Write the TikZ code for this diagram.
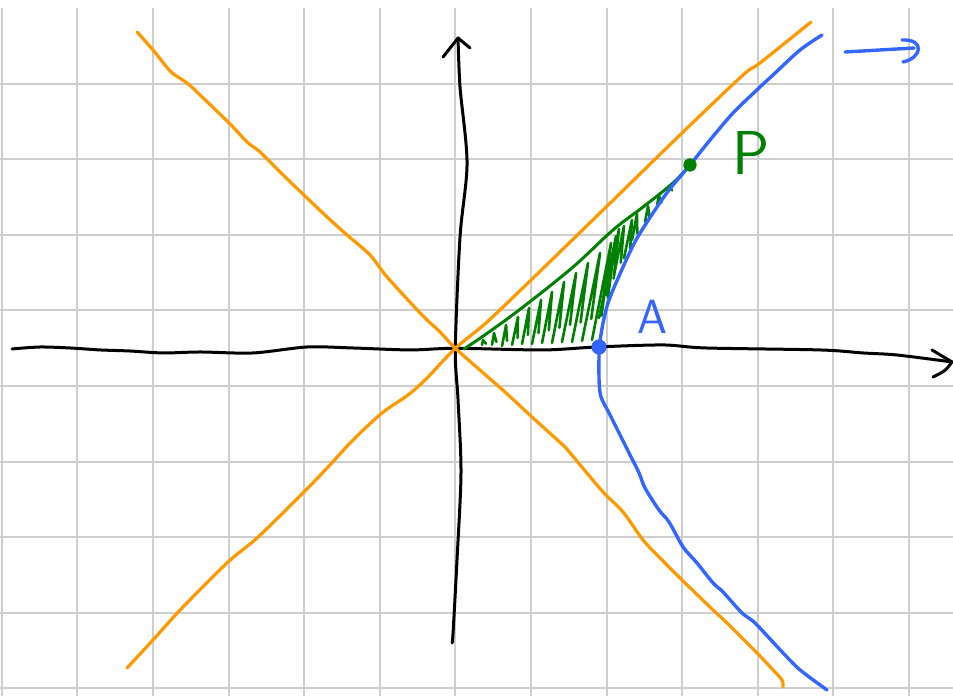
\documentclass[tikz,border=0pt]{standalone}
\definecolor{penorange}{RGB}{255,153,0}
\definecolor{penblue}{RGB}{51,102,255}
\definecolor{pengreen}{RGB}{0,128,0}
\definecolor{gridgray}{RGB}{206,206,206}
\tikzset{
  gridline/.style={gridgray, line width=2pt},
  axisline/.style={black, line width=3pt, line cap=round, line join=round},
  asymptote/.style={penorange, line width=3.2pt, line cap=round, line join=round},
  hyperbola/.style={penblue, line width=3.4pt, line cap=round, line join=round},
  hatch/.style={pengreen, line width=2.6pt, line cap=round, line join=round},
  pendot/.style={circle, fill=#1, inner sep=0pt, minimum size=15pt}
}

\begin{document}
\begin{tikzpicture}[x=75.6pt, y=75.6pt]
    \useasboundingbox (-6.023,-4.599) rectangle (6.583,4.607);

    % Grid
    \foreach \i in {-6,...,6}
        \draw[gridline] (\i,-4.65) -- (\i,4.5);
    \foreach \j in {-4.5,-3.5,...,3.5}
        \draw[gridline] (-6.05,\j) -- (6.6,\j);

    % Nodes
    \coordinate (O) at (0,0);
    \coordinate (Xend) at (6.570,-0.181);
    \coordinate (Yend) at (0.036,4.104);
    \node[pendot=penblue] (A) at (1.901,0.017) {};
    \node[pendot=pengreen, minimum size=13pt] (P) at (3.104,2.425) {};
    \node[penblue, font=\sffamily\fontsize{48}{48}\selectfont] (Atext) at (2.602,0.414) {A};
    \node[pengreen, font=\sffamily\fontsize{62}{62}\selectfont] (Ptext) at (3.911,2.583) {P};

    % Axes
    \draw[axisline] plot[smooth, tension=0.5] coordinates {(-5.864,-0.009) (-5.493,0.017) (-5.097,0.004)
        (-4.700,-0.022) (-4.303,-0.036) (-3.866,-0.062) (-3.377,-0.049) (-2.676,-0.062) (-1.962,0.017)
        (-1.353,0.004) (-0.599,-0.022) (O) (1.160,-0.022) (1.861,0.017) (2.747,0.044) (3.316,0.004)
        (4.824,-0.022) (5.393,-0.062) (5.843,-0.089) (Xend)};
    \draw[axisline] (6.304,-0.022) -- (Xend) .. controls (6.48,-0.30) .. (6.318,-0.380);
    \draw[axisline] plot[smooth, tension=0.5] coordinates {(-0.044,-3.898) (-0.030,-3.766) (0.022,-2.800)
        (0.075,-1.649) (0.036,-0.684) (O) (0.062,1.472) (0.155,2.451) (0.062,3.456) (Yend)};
    \draw[axisline] (-0.163,3.853) -- (Yend) -- (0.194,3.972);

    % Asymptotes
    \draw[asymptote] plot[smooth, tension=0.5] coordinates {(-4.210,4.184) (-3.999,3.946) (-3.840,3.747)
        (-3.747,3.642) (-3.549,3.509) (-3.377,3.351) (-2.980,2.967) (-2.755,2.729) (-2.583,2.597)
        (-2.319,2.332) (-1.962,1.988) (-1.697,1.737) (-1.433,1.499) (-1.128,1.234) (-0.903,0.943)
        (-0.440,0.440) (-0.202,0.216) (O) (0.446,-0.393) (0.671,-0.591) (1.028,-0.922) (1.464,-1.319)
        (1.597,-1.478) (1.954,-1.901) (2.218,-2.165) (2.483,-2.536) (2.734,-2.800) (2.999,-3.065)
        (3.409,-3.462) (3.594,-3.634) (3.991,-4.030) (4.202,-4.255) (4.321,-4.388) (4.335,-4.480)};
    \draw[asymptote] plot[smooth, tension=0.5] coordinates {(-4.343,-4.229) (-3.999,-3.858) (-3.615,-3.435)
        (-3.007,-2.827) (-2.623,-2.509) (-2.015,-1.914) (-1.684,-1.570) (-1.353,-1.213) (-0.970,-0.856)
        (-0.626,-0.618) (-0.374,-0.393) (O) (0.406,0.335) (0.988,0.890) (1.914,1.790) (2.999,2.848)
        (3.806,3.615) (4.030,3.774) (4.705,4.316)};

    % Shaded sector
    \draw[hatch, line width=3pt] plot[smooth, tension=0.6] coordinates {(0.115,-0.010) (0.446,0.216)
        (0.896,0.546) (1.557,1.075) (2.086,1.565) (2.483,1.869) (2.880,2.187) (P.center)};
    \foreach \xa/\ya/\xb/\yb in {0.353/0.044/0.366/0.110, 0.485/0.044/0.512/0.202,
        0.618/0.030/0.671/0.308, 0.750/0.044/0.829/0.414, 0.882/0.057/0.975/0.533,
        1.014/0.057/1.134/0.639, 1.147/0.070/1.279/0.745, 1.279/0.070/1.438/0.877,
        1.411/0.083/1.597/0.996, 1.544/0.083/1.755/1.128, 1.676/0.097/1.914/1.261,
        1.808/0.110/2.060/1.393, 1.901/0.401/2.126/1.485, 1.993/0.705/2.165/1.578,
        2.099/0.970/2.231/1.618, 2.231/1.194/2.337/1.698, 2.337/1.433/2.403/1.776,
        2.509/1.671/2.549/1.882, 2.668/1.896/2.694/2.016, 2.813/2.068/2.827/2.147}
        \draw[hatch] (\xa,\ya) -- (\xb,\yb) -- ({\xa+0.3*(\xb-\xa)+0.05},{\ya+0.25*(\yb-\ya)});

    % Hyperbola
    \draw[hyperbola] plot[smooth, tension=0.5] coordinates {(A.center) (1.954,0.335) (2.033,0.639)
        (2.218,1.075) (2.390,1.433) (2.615,1.790) (2.827,2.094) (P.center) (3.369,2.755) (3.673,3.112)
        (4.030,3.456) (4.202,3.615) (4.560,3.946) (4.851,4.144)};
    \draw[hyperbola] plot[smooth, tension=0.5] coordinates {(A.center) (1.901,-0.419) (1.927,-0.644)
        (2.033,-0.856) (2.165,-1.120) (2.298,-1.385) (2.430,-1.649) (2.509,-1.848) (2.694,-2.139)
        (2.827,-2.298) (3.012,-2.628) (3.197,-2.840) (3.409,-3.104) (3.541,-3.224) (3.792,-3.501)
        (3.964,-3.634) (4.335,-4.030) (4.560,-4.255) (4.917,-4.520)};
    \coordinate (Bstart) at (5.155,3.919);
    \coordinate (Btip) at (6.070,3.972);
    \draw[hyperbola] (Bstart) -- (Btip);
    \draw[hyperbola] (5.909,4.078) .. controls (6.22,4.09) and (6.17,3.84) .. (5.922,3.787);

    % Dots on top
    \node[pendot=penblue] at (A) {};
    \node[pendot=pengreen, minimum size=13pt] at (P) {};

\end{tikzpicture}
\end{document}
